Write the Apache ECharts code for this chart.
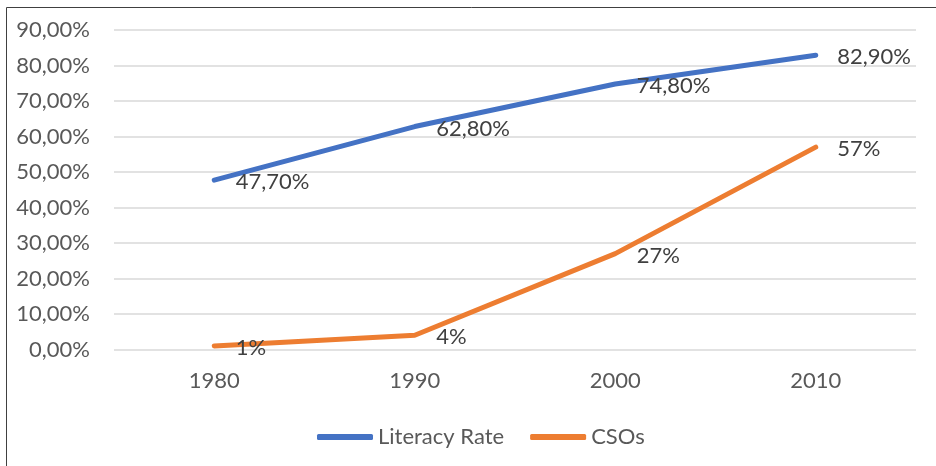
<!DOCTYPE html>
<html>
<head>
<meta charset="utf-8">
<script src="https://cdn.jsdelivr.net/npm/echarts@6/dist/echarts.min.js"></script>
<style>
  html, body { margin: 0; padding: 0; background: #fff; }
  #chart { width: 936px; height: 466px; }
</style>
</head>
<body>
<div id="chart"></div>
<script>
const years = ['1980', '1990', '2000', '2010'];
const literacyRate = [47.7, 62.8, 74.8, 82.9];
const csos = [1, 4, 27, 57];
const literacyLabels = ['47,70%', '62,80%', '74,80%', '82,90%'];
const csosLabels = ['1%', '4%', '27%', '57%'];

const FONT = 'Lato';
const FS = 22;

let myChart = echarts.init(document.getElementById('chart'));
myChart.setOption({
  animation: false,
  textStyle: { fontFamily: FONT },
  graphic: [{
    type: 'rect',
    shape: { x: 6.5, y: 7.5, width: 940, height: 470 },
    style: { fill: 'none', stroke: '#404040', lineWidth: 1 }
  }],
  grid: { left: 114, right: 20, top: 30, bottom: 116.5 },
  legend: {
    left: 312,
    top: 421,
    icon: 'roundRect',
    itemWidth: 56,
    itemHeight: 6,
    itemGap: 26,
    textStyle: { fontFamily: FONT, fontSize: FS, color: '#595959' },
    data: ['Literacy Rate', 'CSOs']
  },
  xAxis: {
    type: 'category',
    data: years,
    boundaryGap: true,
    axisLine: { show: false },
    axisTick: { show: false },
    axisLabel: { margin: 20, fontSize: FS, color: '#595959', fontFamily: FONT }
  },
  yAxis: {
    type: 'value',
    min: 0,
    max: 90,
    interval: 10,
    axisLine: { show: false },
    axisTick: { show: false },
    splitLine: { lineStyle: { color: '#d9d9d9', width: 1.5 } },
    axisLabel: {
      margin: 24,
      fontSize: FS,
      color: '#595959',
      fontFamily: FONT,
      formatter: v => v.toFixed(2).replace('.', ',') + '%'
    }
  },
  series: [
    {
      name: 'Literacy Rate',
      type: 'line',
      data: literacyRate,
      symbol: 'circle',
      symbolSize: 1,
      color: '#4472C4',
      lineStyle: { width: 5, color: '#4472C4', cap: 'round' },
      label: {
        show: true,
        position: 'right',
        distance: 21,
        offset: [0, 2],
        fontSize: FS,
        color: '#404040',
        fontFamily: FONT,
        formatter: p => literacyLabels[p.dataIndex]
      }
    },
    {
      name: 'CSOs',
      type: 'line',
      data: csos,
      symbol: 'circle',
      symbolSize: 1,
      color: '#ED7D31',
      lineStyle: { width: 5, color: '#ED7D31', cap: 'round' },
      label: {
        show: true,
        position: 'right',
        distance: 21,
        offset: [0, 2],
        fontSize: FS,
        color: '#404040',
        fontFamily: FONT,
        formatter: p => csosLabels[p.dataIndex]
      }
    }
  ]
});
</script>
</body>
</html>
